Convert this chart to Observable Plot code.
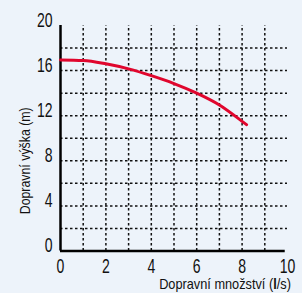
<!DOCTYPE html>
<html>
<head>
<meta charset="utf-8">
<script src="https://cdn.jsdelivr.net/npm/d3@7"></script>
<script src="https://cdn.jsdelivr.net/npm/@observablehq/plot@0.6"></script>
<style>
  html, body { margin: 0; padding: 0; background: #edf3fa; }
  #chart svg { display: block; }
</style>
</head>
<body>
<div id="chart"></div>
<script>
const flow = [0, 1, 2, 3, 4, 5, 6, 7, 8, 8.2];
const head = [16.95, 16.9, 16.6, 16.15, 15.55, 14.85, 14.0, 12.95, 11.5, 11.2];
const xTicks = [0, 2, 4, 6, 8, 10];
const yTicks = [0, 4, 8, 12, 16, 20];
const xGrid = [1, 2, 3, 4, 5, 6, 7, 8, 9];
const yGrid = [2, 4, 6, 8, 10, 12, 14, 16, 18];
const xTitle = "Dopravní množství (l/s)";
const yTitle = "Dopravní výška (m)";

const curve = flow.map((f, i) => ({flow: f, head: head[i]}));
const font = "'Liberation Sans', Arial, sans-serif";

const plot = Plot.plot({
  width: 302,
  height: 293,
  marginLeft: 60,
  marginRight: 15,
  marginTop: 25,
  marginBottom: 42.5,
  style: {background: "#edf3fa", fontFamily: font},
  x: {domain: [0, 10], axis: null},
  y: {domain: [0, 20], axis: null},
  marks: [
    Plot.ruleX(xGrid, {y1: 0, y2: 20, stroke: "#111", strokeWidth: 1.5, strokeDasharray: "2.5,2.5"}),
    Plot.ruleY(yGrid, {x1: 0, x2: 10, stroke: "#111", strokeWidth: 1.5, strokeDasharray: "2.5,2.5"}),
    Plot.ruleX([0], {y1: 0, y2: 20, stroke: "#000", strokeWidth: 2.5}),
    Plot.ruleY([0], {x1: 0, x2: 9.9, stroke: "#000", strokeWidth: 2.5}),
    Plot.line(curve, {x: "flow", y: "head", stroke: "#e0062d", strokeWidth: 3, curve: "monotone-x"}),
    Plot.text(yTicks, {x: 0, y: d => d, text: d => String(d), textAnchor: "end", dx: -8, dy: -5, fontSize: 19.5, fill: "#111", className: "ytick"}),
    Plot.text(xTicks, {x: d => d, y: 0, text: d => String(d), dy: 16, fontSize: 19.5, fill: "#111", className: "xtick"}),
    Plot.text([xTitle], {x: 10.15, y: -3, textAnchor: "end", fontSize: 14, fill: "#111", className: "xtitle"}),
    Plot.text([yTitle], {x: -1.55, y: 8, rotate: -90, fontSize: 14, fill: "#111", className: "ytitle"})
  ]
});
document.getElementById("chart").appendChild(plot);

// bold "l" in the unit
const t = plot.querySelector(".xtitle text");
if (t) {
  t.textContent = "";
  const parts = [["Dopravní množství (", "normal"], ["l", "bold"], ["/s)", "normal"]];
  for (const [s, w] of parts) {
    const ts = document.createElementNS("http://www.w3.org/2000/svg", "tspan");
    ts.textContent = s;
    ts.setAttribute("font-weight", w);
    t.appendChild(ts);
  }
}

// condensed look: squeeze text horizontally along its direction
function squeeze(sel, sx) {
  plot.querySelectorAll(sel).forEach(el => {
    const tr = el.getAttribute("transform") || "";
    el.setAttribute("transform", tr + ` scale(${sx},1)`);
  });
}
squeeze(".ytick text", 0.72);
squeeze(".xtick text", 0.72);
function fitWidth(sel, target) {
  const el = plot.querySelector(sel);
  if (!el) return;
  const w = el.getBBox().width;
  const tr = el.getAttribute("transform") || "";
  el.setAttribute("transform", tr + ` scale(${target / w},1)`);
}
fitWidth(".xtitle text", 132);
fitWidth(".ytitle text", 107);
</script>
</body>
</html>
